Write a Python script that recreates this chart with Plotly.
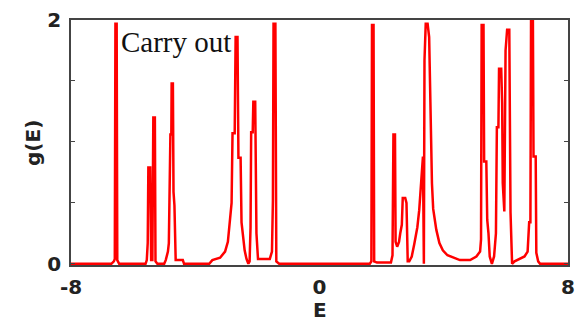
import plotly.graph_objects as go

# Energy (E) and density of states g(E) (polyline vertices)
energy = [
    -8.00, -6.70, -6.62, -6.59, -6.57, -6.53, -6.51, -6.45,
    -5.60, -5.56, -5.53, -5.51, -5.45, -5.42, -5.38, -5.35, -5.30, -5.28, -5.22,
    -5.00, -4.95, -4.92, -4.88, -4.85, -4.83, -4.80, -4.77, -4.76, -4.72, -4.70,
    -4.67, -4.63, -4.40, -4.36,
    -3.55, -3.45, -3.20, -3.04, -2.95, -2.89, -2.83, -2.80, -2.73, -2.70, -2.64,
    -2.61, -2.54, -2.51, -2.47, -2.41, -2.35, -2.29,
    -2.25, -2.22, -2.20, -2.15, -2.13, -2.07, -2.03, -1.98, -1.60, -1.53, -1.50,
    -1.48, -1.42, -1.39, -1.30,
    1.62, 1.67, 1.69, 1.74, 1.76, 1.85,
    2.30, 2.35, 2.38, 2.43, 2.45, 2.50, 2.56, 2.60, 2.65, 2.68, 2.76, 2.80, 2.84,
    2.89, 2.97, 3.05, 3.15, 3.21, 3.26, 3.29, 3.33, 3.36, 3.38, 3.42, 3.48, 3.53,
    3.57, 3.62, 3.66, 3.76, 3.86, 3.97, 4.12, 4.30, 4.52, 4.85,
    5.05, 5.17, 5.20, 5.22, 5.28, 5.30, 5.37, 5.40, 5.44, 5.48, 5.55,
    5.62, 5.68, 5.71, 5.76, 5.78, 5.85, 5.88, 5.90, 5.95, 5.99, 6.04, 6.11, 6.15, 6.20,
    6.28, 6.45, 6.60, 6.70, 6.75, 6.79, 6.81, 6.87, 6.89, 6.96, 6.98, 7.04, 7.10, 8.00,
]
dos = [
    0.00, 0.00, 0.02, 0.04, 1.97, 1.97, 0.03, 0.00,
    0.00, 0.03, 0.17, 0.79, 0.79, 0.03, 0.03, 1.20, 1.20, 0.02, 0.00,
    0.00, 0.03, 0.06, 0.10, 0.17, 0.52, 1.06, 1.06, 1.48, 1.48, 0.59,
    0.48, 0.03, 0.03, 0.00,
    0.00, 0.03, 0.05, 0.10, 0.18, 0.34, 0.50, 1.07, 1.07, 1.86, 1.86,
    0.87, 0.87, 0.34, 0.22, 0.11, 0.04, 0.00,
    0.02, 0.30, 1.08, 1.08, 1.33, 1.33, 0.25, 0.04, 0.04, 0.10, 0.52,
    1.97, 1.97, 0.02, 0.00,
    0.00, 0.02, 1.96, 1.96, 0.02, 0.01,
    0.01, 0.07, 1.06, 1.06, 0.18, 0.14, 0.18, 0.25, 0.32, 0.54, 0.54, 0.50, 0.02,
    0.02, 0.06, 0.16, 0.30, 0.44, 0.60, 0.69, 0.88, 0.00, 1.67, 1.97, 1.97, 1.86,
    1.22, 0.66, 0.45, 0.28, 0.17, 0.11, 0.07, 0.05, 0.03, 0.03,
    0.06, 0.10, 0.20, 1.96, 1.96, 0.84, 0.84, 0.36, 0.25, 0.06, 0.00,
    0.06, 0.25, 1.12, 1.12, 1.60, 1.60, 1.32, 0.66, 0.43, 1.75, 1.92, 1.92, 0.42, 0.00,
    0.02, 0.04, 0.06, 0.10, 0.34, 0.34, 2.00, 2.00, 0.88, 0.88, 0.09, 0.02, 0.00, 0.00,
]

x_tickvals = [-8, 0, 8]
x_ticktext = ["-8", "0", "8"]
y_tickvals = [0, 0.5, 1, 1.5, 2]
y_ticktext = ["0", "", "", "", "2"]

fig = go.Figure()
fig.add_trace(go.Scatter(
    x=energy, y=dos, mode="lines",
    line=dict(color="#ff0000", width=2.5),
    showlegend=False, hoverinfo="skip",
))

bold = dict(family="DejaVu Sans", size=20, color="#222222", weight="bold")

fig.update_layout(
    width=582, height=325,
    margin=dict(l=71, r=14, t=20, b=60, autoexpand=False),
    paper_bgcolor="white", plot_bgcolor="white",
    xaxis=dict(
        range=[-8, 8], tickvals=x_tickvals, ticktext=x_ticktext,
        ticks="", showgrid=False, zeroline=False,
        showline=True, linecolor="#444444", linewidth=1.5, mirror=True,
        tickfont=bold, ticklabelstandoff=3,
    ),
    yaxis=dict(
        range=[-0.01, 2], tickvals=y_tickvals, ticktext=y_ticktext,
        ticks="inside", ticklen=4, tickcolor="#444444", tickwidth=1.2,
        showgrid=False, zeroline=False,
        showline=True, linecolor="#444444", linewidth=1.5, mirror="ticks",
        tickfont=bold, ticklabelstandoff=4,
    ),
    annotations=[
        dict(text="Carry out", x=-6.44, y=1.82, xref="x", yref="y",
             xanchor="left", yanchor="middle", showarrow=False,
             font=dict(family="Liberation Serif", size=29, color="#111111")),
        dict(text="E", x=0.5, y=-0.242, xref="paper", yref="paper",
             xanchor="center", yanchor="bottom", showarrow=False,
             font=dict(family="DejaVu Sans", size=20, color="#222222", weight="bold")),
        dict(text="g(E)", x=-0.075, y=0.497, xref="paper", yref="paper",
             xanchor="center", yanchor="middle", showarrow=False, textangle=-90,
             font=dict(family="DejaVu Sans", size=20, color="#222222", weight="bold")),
    ],
)

fig.write_html(
    "out.html",
    config={"displayModeBar": False},
    post_script="document.body.style.margin='0';document.body.style.overflow='hidden';",
)
